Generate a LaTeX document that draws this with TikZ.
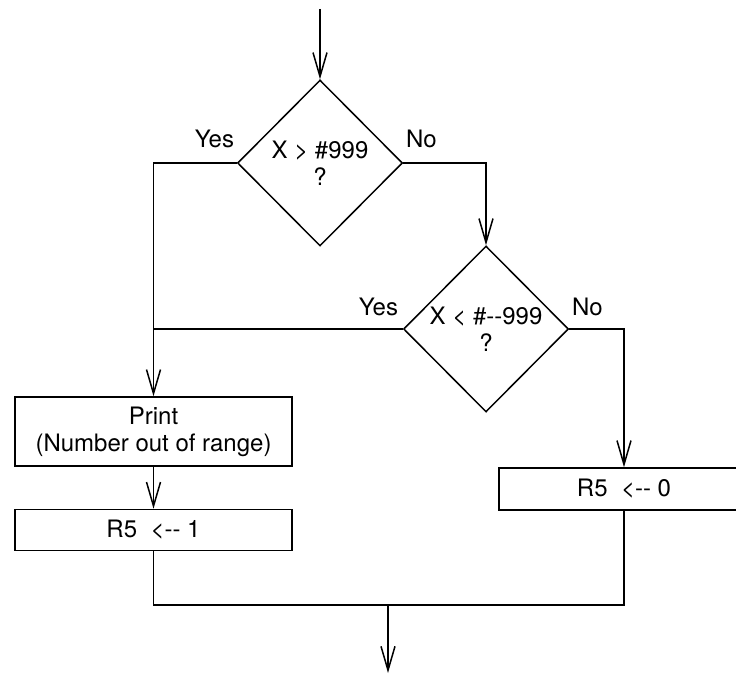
\documentclass[tikz,border=0pt]{standalone}
\usepackage{fontspec}
\setmainfont{TeX Gyre Heros}
\usetikzlibrary{arrows.meta,positioning,shapes.geometric}

\begin{document}
\begin{tikzpicture}[
    x=1pt, y=1pt,
    line width=1.5pt,
    txt/.style={font=\fontsize{24}{27}\selectfont},
    decision/.style={txt, draw, diamond, shape aspect=1, inner sep=0pt, minimum width=165pt, minimum height=166pt, align=center},
    process/.style={txt, draw, rectangle, minimum width=277pt, align=center},
    lbl/.style={txt, inner sep=0pt},
    flow/.style={-{Straight Barb[length=24pt,width=14pt]}}
]
    \useasboundingbox (0,0) rectangle (736,675);
    \clip (0,0) rectangle (736,675);

    \coordinate (entry) at (320,666);
    \node[decision] (bigger) at (320,512) {X > \#999\\?};
    \node[decision] (smaller) at (486,346) {X < \#-{}-999\\?};

    \node[process, minimum height=69pt] (print) at (153.5,243.5) {Print\\(Number out of range)};
    \node[process, minimum height=41pt, below=42pt of print] (setone) {R5~~<-{}- 1};
    \node[process, minimum width=250pt, minimum height=42pt] (setzero) at (624,186) {R5~~<-{}- 0};

    \node[lbl, anchor=base east] (yes1) at ([shift={(-2,15)}]bigger.west) {Yes};
    \node[lbl, anchor=base west] (no1) at ([shift={(2,15)}]bigger.east) {No};
    \node[lbl, anchor=base east] (yes2) at ([shift={(-4,13)}]smaller.west) {Yes};
    \node[lbl, anchor=base west] (no2) at ([shift={(2,13)}]smaller.east) {No};

    \coordinate (join) at (388,70);
    \coordinate (exit) at (388,2);

    \draw[flow] (entry) -- (bigger);
    \draw[flow] (bigger.east) -| (smaller.north);
    \draw[flow] (bigger.west) -| (print.north);
    \draw (smaller.west) -- (smaller.west -| print.north);
    \draw[flow] (smaller.east) -| (setzero.north);
    \draw[flow] (print) -- (setone);
    \draw (setone.south) |- (join) -| (setzero.south);
    \draw[flow] (join) -- (exit);
\end{tikzpicture}
\end{document}
